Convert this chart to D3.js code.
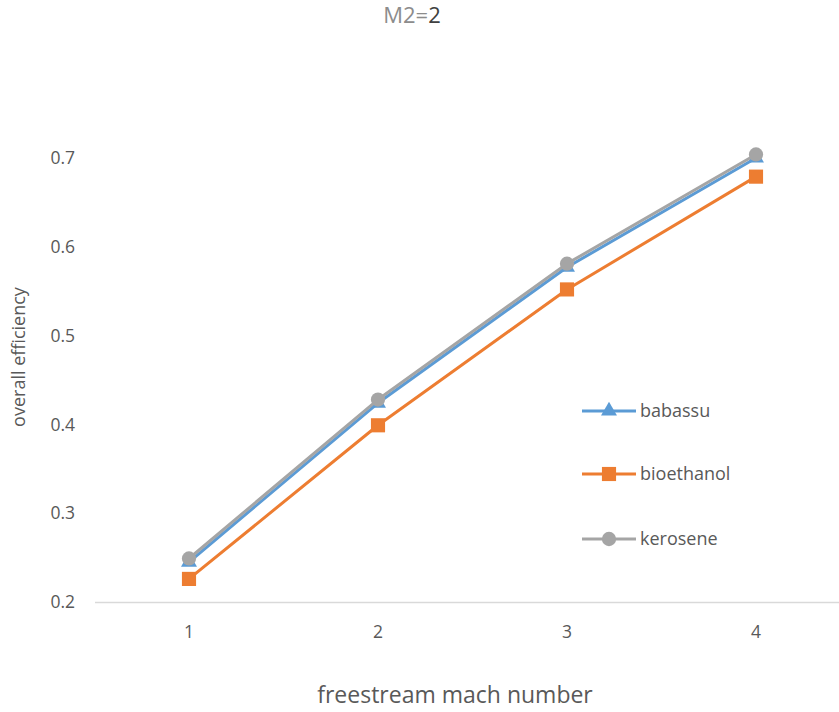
<!DOCTYPE html>
<html lang="en">
<head>
    <meta charset="UTF-8">
    <title>M2=2</title>
    <style>
        body { margin: 0; background: #fff; }
        text { font-family: "Open Sans", "Noto Sans", sans-serif; fill: #595959; }
    </style>
</head>
<body>
    <svg width="839" height="712"></svg>
    <script src="https://d3js.org/d3.v7.min.js"></script>
    <script>
        // chart data
        var categories = ["1", "2", "3", "4"];
        var yTicks = [0.2, 0.3, 0.4, 0.5, 0.6, 0.7];
        var babassu = [0.245, 0.424, 0.577, 0.700];
        var bioethanol = [0.226, 0.399, 0.552, 0.679];
        var kerosene = [0.249, 0.428, 0.581, 0.704];

        var series = [
            { name: "babassu", values: babassu, color: "#5B9BD5", symbol: d3.symbolTriangle, size: 110 },
            { name: "bioethanol", values: bioethanol, color: "#ED7D31", symbol: d3.symbolSquare, size: 200 },
            { name: "kerosene", values: kerosene, color: "#A5A5A5", symbol: d3.symbolCircle, size: 160 }
        ];

        var svg = d3.select("svg");

        var x = d3.scaleBand()
            .domain(categories)
            .range([94.5, 850.5]);

        var y = d3.scaleLinear()
            .domain([0.2, 0.7])
            .range([602, 158]);

        // title
        var title = svg.append("text")
            .attr("x", 412)
            .attr("y", 23)
            .attr("text-anchor", "middle")
            .style("font-size", "22px");
        title.append("tspan").style("fill", "#8c8c8c").text("M2=");
        title.append("tspan").style("fill", "#404040").text("2");

        // y tick labels (no gridlines)
        svg.append("g")
            .selectAll("text")
            .data(yTicks)
            .enter().append("text")
            .attr("x", 75)
            .attr("y", function(d) { return y(d); })
            .attr("dy", "0.35em")
            .attr("text-anchor", "end")
            .style("font-size", "17.5px")
            .text(function(d) { return d.toFixed(1); });

        // category axis
        var xAxis = svg.append("g")
            .attr("transform", "translate(0,602)")
            .call(d3.axisBottom(x).tickSize(0).tickPadding(24));
        xAxis.select(".domain").attr("stroke", "#D9D9D9").attr("stroke-width", 1.5);
        xAxis.selectAll("text")
            .style("font-size", "17.5px")
            .style("font-family", "'Open Sans', sans-serif")
            .attr("fill", "#595959");

        // axis titles
        svg.append("text")
            .attr("x", 455)
            .attr("y", 703)
            .attr("text-anchor", "middle")
            .style("font-size", "23px")
            .text("freestream mach number");

        svg.append("text")
            .attr("transform", "translate(25,357) rotate(-90)")
            .attr("text-anchor", "middle")
            .style("font-size", "18px")
            .text("overall efficiency");

        var line = d3.line()
            .x(function(d, i) { return x(categories[i]) + x.bandwidth() / 2; })
            .y(function(d) { return y(d); });

        // draw in order so kerosene ends on top
        var groups = svg.append("g")
            .selectAll("g")
            .data(series)
            .enter().append("g");

        groups.append("path")
            .attr("fill", "none")
            .attr("stroke", function(d) { return d.color; })
            .attr("stroke-width", 3)
            .attr("stroke-linejoin", "round")
            .attr("d", function(d) { return line(d.values); });

        groups.each(function(s) {
            d3.select(this).selectAll(".pt")
                .data(s.values)
                .enter().append("path")
                .attr("class", "pt")
                .attr("fill", s.color)
                .attr("d", d3.symbol().type(s.symbol).size(s.size))
                .attr("transform", function(d, i) {
                    return "translate(" + (x(categories[i]) + x.bandwidth() / 2) + "," + y(d) + ")";
                });
        });

        // legend
        var legendY = [411, 474, 539];
        var legend = svg.append("g")
            .selectAll("g")
            .data(series)
            .enter().append("g")
            .attr("transform", function(d, i) { return "translate(582," + legendY[i] + ")"; });

        legend.append("line")
            .attr("x1", 0)
            .attr("x2", 54)
            .attr("stroke", function(d) { return d.color; })
            .attr("stroke-width", 3);

        legend.append("path")
            .attr("transform", "translate(27,0)")
            .attr("fill", function(d) { return d.color; })
            .attr("d", function(d) { return d3.symbol().type(d.symbol).size(d.size)(); });

        legend.append("text")
            .attr("x", 58)
            .attr("dy", "0.35em")
            .style("font-size", "18px")
            .text(function(d) { return d.name; });
    </script>
</body>
</html>
